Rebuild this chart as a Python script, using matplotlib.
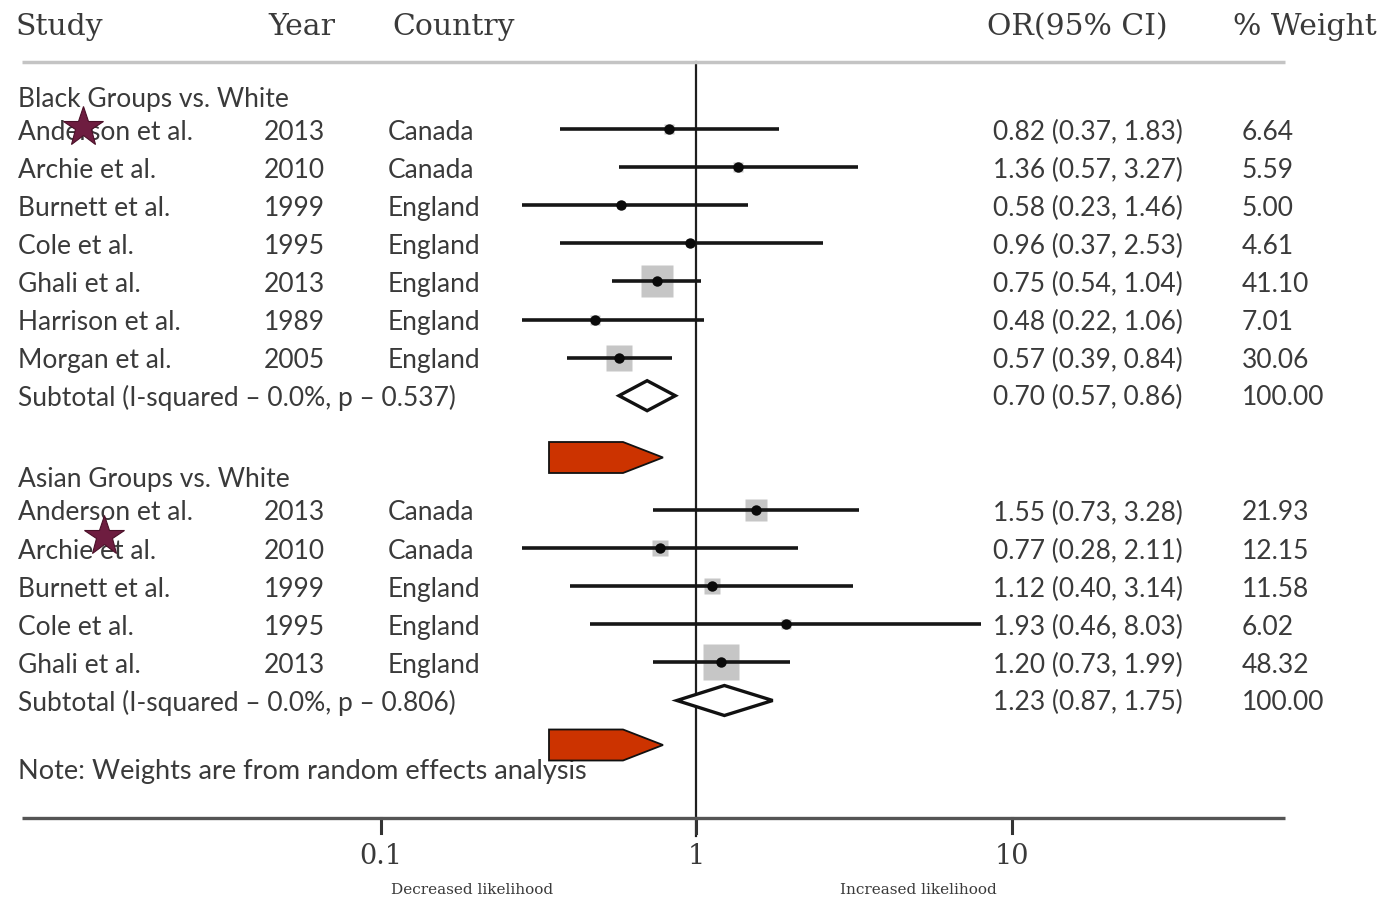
import numpy as np
import matplotlib.pyplot as plt
from matplotlib.patches import Polygon

plt.rcParams['font.family'] = ['Lato', 'DejaVu Sans']

# Black groups vs. White
black_study = ["Anderson et al.", "Archie et al.", "Burnett et al.", "Cole et al.",
               "Ghali et al.", "Harrison et al.", "Morgan et al."]
black_year = [2013, 2010, 1999, 1995, 2013, 1989, 2005]
black_country = ["Canada", "Canada", "England", "England", "England", "England", "England"]
black_or = [0.82, 1.36, 0.58, 0.96, 0.75, 0.48, 0.57]
black_lo = [0.37, 0.57, 0.23, 0.37, 0.54, 0.22, 0.39]
black_hi = [1.83, 3.27, 1.46, 2.53, 1.04, 1.06, 0.84]
black_wt = [6.64, 5.59, 5.00, 4.61, 41.10, 7.01, 30.06]
black_sub = [0.70, 0.57, 0.86]
black_sub_label = "Subtotal (I-squared \u2013 0.0%, p \u2013 0.537)"

# Asian groups vs. White
asian_study = ["Anderson et al.", "Archie et al.", "Burnett et al.", "Cole et al.", "Ghali et al."]
asian_year = [2013, 2010, 1999, 1995, 2013]
asian_country = ["Canada", "Canada", "England", "England", "England"]
asian_or = [1.55, 0.77, 1.12, 1.93, 1.20]
asian_lo = [0.73, 0.28, 0.40, 0.46, 0.73]
asian_hi = [3.28, 2.11, 3.14, 8.03, 1.99]
asian_wt = [21.93, 12.15, 11.58, 6.02, 48.32]
asian_sub = [1.23, 0.87, 1.75]
asian_sub_label = "Subtotal (I-squared \u2013 0.0%, p \u2013 0.806)"

ticks = [0.1, 1, 10]
ci_floor = 0.28  # plotting range cut-off on the left

W, H = 1388, 902
fig = plt.figure(figsize=(W / 100, H / 100), dpi=100)

# log axis for the estimates, pixel axis for the layout/text
ax = fig.add_axes([0, 0, 1, 1])
ax.set_xscale('log')
x1, dec = 696.0, 315.5
ax.set_xlim(10 ** (-x1 / dec), 10 ** ((W - x1) / dec))
ax.set_ylim(H, 0)
ax.axis('off')

tx = fig.add_axes([0, 0, 1, 1])
tx.set_xlim(0, W)
tx.set_ylim(H, 0)
tx.axis('off')
tx.patch.set_alpha(0)

TXT = '#3a3a3a'
SERIF = 'DejaVu Serif'
FS = 19

# header
for x, s in [(15, "Study"), (268, "Year"), (392, "Country"), (987, "OR(95% CI)"), (1233, "% Weight")]:
    tx.text(x, 27, s, family=SERIF, fontsize=21.5, color=TXT, va='center', ha='left')
tx.plot([22, 1285], [62, 62], color='#c4c4c4', lw=2.5, solid_capstyle='butt')


def draw_group(y0, title, study, year, country, orr, lo, hi, wt, sub, sub_label):
    tx.text(18, y0 - 30, title, fontsize=FS, color=TXT, va='center')
    ys = y0 + 38.1 * np.arange(len(study))
    for i, y in enumerate(ys):
        ty = y + 3
        tx.text(18, ty, study[i], fontsize=FS, color=TXT, va='center')
        tx.text(264, ty, str(year[i]), fontsize=FS, color=TXT, va='center')
        tx.text(388, ty, country[i], fontsize=FS, color=TXT, va='center')
        tx.text(993, ty, "%.2f (%.2f, %.2f)" % (orr[i], lo[i], hi[i]),
                fontsize=FS, color=TXT, va='center')
        tx.text(1242, ty, "%.2f" % wt[i], fontsize=FS, color=TXT, va='center')
        side = max(5.63 * np.sqrt(wt[i]) - 4.1, 0) / 1.389
        ax.plot(orr[i], y, 's', ms=side, color='#c6c6c6', mec='none', zorder=2)
        ax.plot([max(lo[i], ci_floor), hi[i]], [y, y], color='#161616', lw=2.6,
                solid_capstyle='butt', zorder=3)
        ax.plot(orr[i], y, 'o', ms=7.5, color='#0a0a0a', mec='none', zorder=4)
    ys_sub = y0 + 38.1 * len(study)
    tx.text(18, ys_sub + 2, sub_label, fontsize=FS, color=TXT, va='center')
    tx.text(993, ys_sub + 2, "%.2f (%.2f, %.2f)" % tuple(sub), fontsize=FS, color=TXT, va='center')
    tx.text(1242, ys_sub + 2, "100.00", fontsize=FS, color=TXT, va='center')
    h = 15
    ax.add_patch(Polygon([(sub[1], ys_sub), (sub[0], ys_sub - h), (sub[2], ys_sub),
                          (sub[0], ys_sub + h)], closed=True, fc='white', ec='#111111',
                         lw=2.4, zorder=4))


draw_group(129, "Black Groups vs. White", black_study, black_year, black_country,
           black_or, black_lo, black_hi, black_wt, black_sub, black_sub_label)
draw_group(510, "Asian Groups vs. White", asian_study, asian_year, asian_country,
           asian_or, asian_lo, asian_hi, asian_wt, asian_sub, asian_sub_label)

tx.text(18, 772, "Note: Weights are from random effects analysis", fontsize=19.5,
        color=TXT, va='center')

# null line and bottom axis
ax.plot([1, 1], [62, 836], color='#1e1e1e', lw=1.6, zorder=1)
tx.plot([22, 1285], [818, 818], color='#555555', lw=2.4, solid_capstyle='butt')
for t in ticks:
    ax.plot([t, t], [818, 833], color='#333333', lw=2.2, zorder=1)
    ax.text(t, 856, "%g" % t, family=SERIF, fontsize=19.5, color=TXT, ha='center', va='center')
tx.text(472, 890, "Decreased likelihood", family=SERIF, fontsize=11, color=TXT,
        ha='center', va='center')
tx.text(918, 890, "Increased likelihood", family=SERIF, fontsize=11, color=TXT,
        ha='center', va='center')

# red pointers
for yc in (457.5, 745):
    tx.add_patch(Polygon([(549, yc - 15.5), (623, yc - 15.5), (663, yc), (623, yc + 15.5),
                          (549, yc + 15.5)], closed=True, fc='#cc3300', ec='#111111',
                         lw=1.3, zorder=6))

# stars
for sx, sy in [(83, 127), (104, 536)]:
    tx.plot(sx, sy, '*', ms=30, color='#6e1d40', mec='#4a1028', mew=0.8, zorder=7)

fig.savefig('out.png', dpi=100)
